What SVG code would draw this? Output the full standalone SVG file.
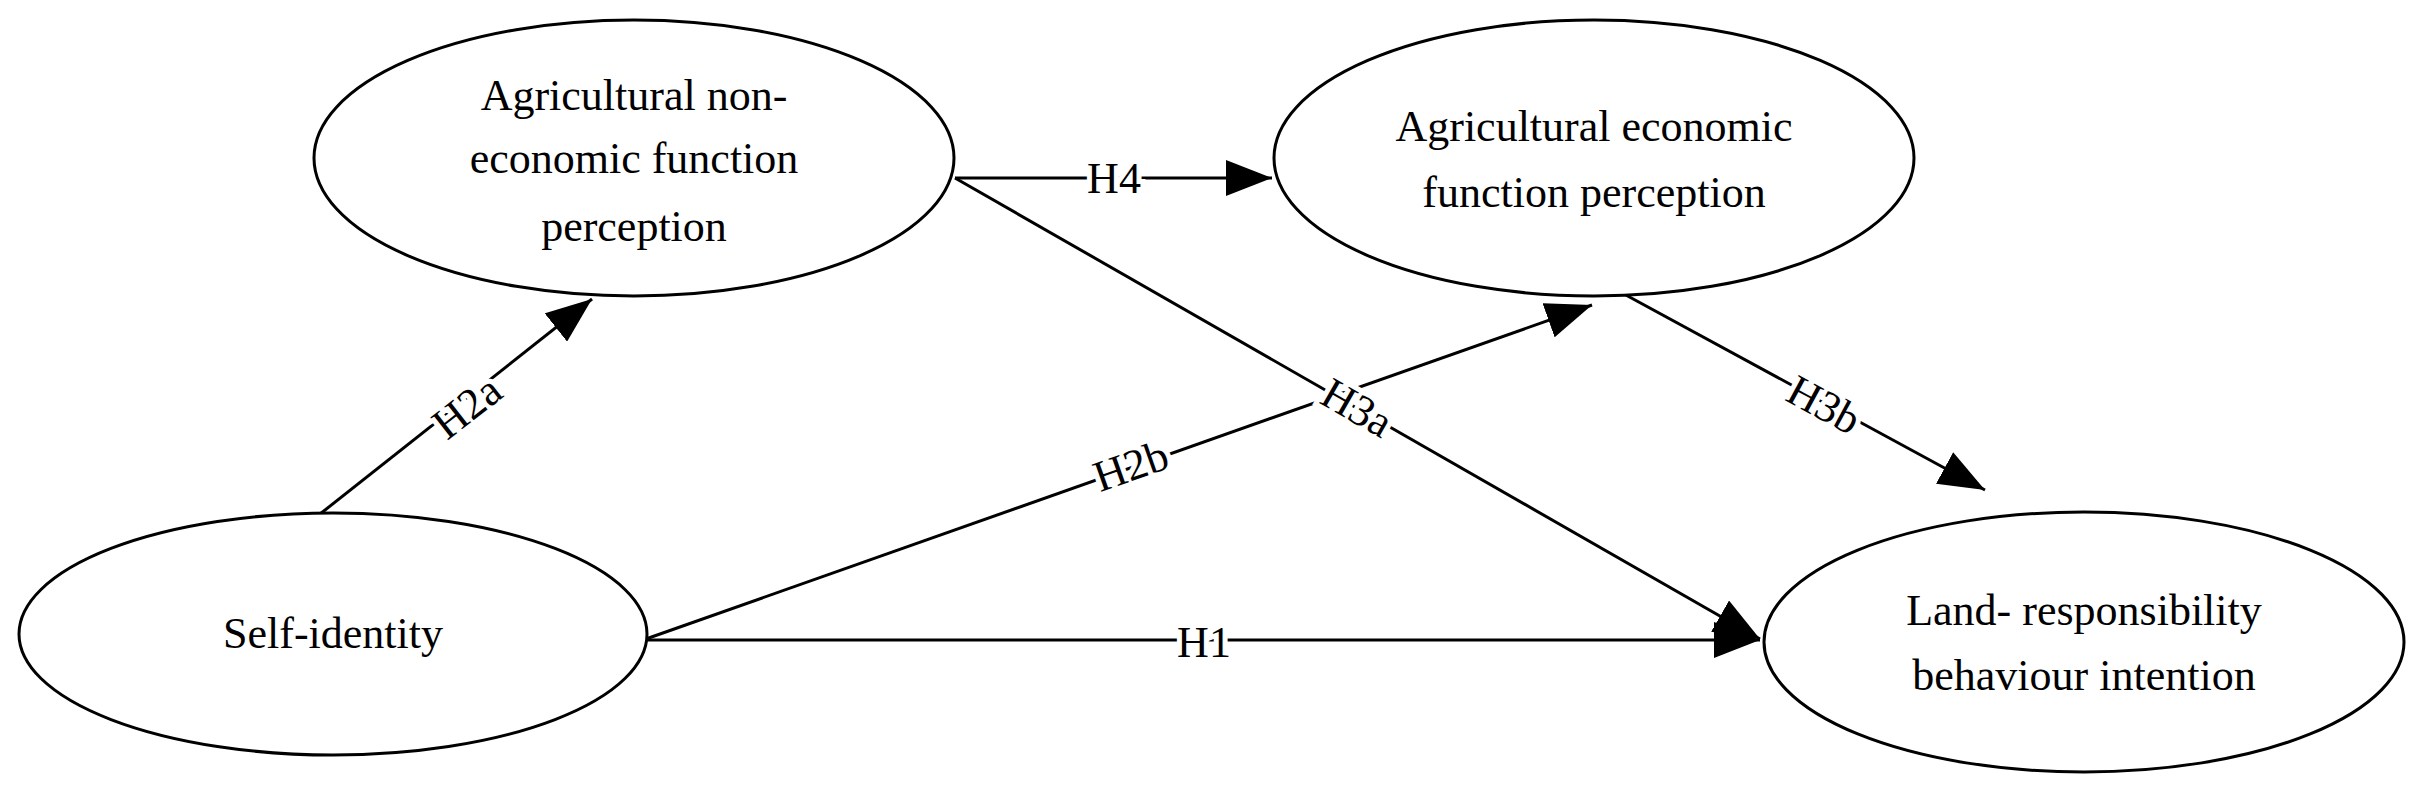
<svg xmlns="http://www.w3.org/2000/svg" width="2426" height="797" viewBox="0 0 2426 797">
<style>
.n{fill:#fff;stroke:#000;stroke-width:3}
.t{font-family:"Liberation Serif","DejaVu Serif",serif;font-size:44px;text-anchor:middle;fill:#000}
.e{stroke:#000;stroke-width:3;fill:none}
.l{font-family:"Liberation Serif","DejaVu Serif",serif;font-size:44px;text-anchor:middle;dominant-baseline:central;fill:#000;stroke:#fff;stroke-width:10;paint-order:stroke}
</style>
<defs>
<marker id="a" markerUnits="userSpaceOnUse" markerWidth="48" markerHeight="36" refX="46" refY="18" orient="auto">
<path d="M0,0 L46,18 L0,36 Z" fill="#000"/>
</marker>
</defs>
<g id="edges">
<line class="e" x1="955" y1="178" x2="1272" y2="178" marker-end="url(#a)"/>
<line class="e" x1="955" y1="178" x2="1760" y2="639" marker-end="url(#a)"/>
<line class="e" x1="320" y1="514" x2="592" y2="299" marker-end="url(#a)"/>
<line class="e" x1="643" y1="640" x2="1592" y2="305" marker-end="url(#a)"/>
<line class="e" x1="1624" y1="294" x2="1985" y2="490" marker-end="url(#a)"/>
<line class="e" x1="643" y1="640" x2="1760" y2="640" marker-end="url(#a)"/>
<text class="l" x="1114" y="178">H4</text>
<text class="l" x="1357" y="408" transform="rotate(29.8 1357 408)">H3a</text>
<text class="l" x="467" y="407" transform="rotate(-38 467 407)">H2a</text>
<text class="l" x="1131" y="466" transform="rotate(-19.4 1131 466)">H2b</text>
<text class="l" x="1824" y="405" transform="rotate(28.4 1824 405)">H3b</text>
<text class="l" x="1204" y="642">H1</text>
</g>
<g id="n1"><ellipse class="n" cx="634" cy="158" rx="320" ry="138"/>
<text class="t" x="634" y="110">Agricultural non-</text><text class="t" x="634" y="173">economic function</text><text class="t" x="634" y="241">perception</text></g>
<g id="n2"><ellipse class="n" cx="1594" cy="158" rx="320" ry="138"/>
<text class="t" x="1594" y="141">Agricultural economic</text><text class="t" x="1594" y="207">function perception</text></g>
<g id="n3"><ellipse class="n" cx="333" cy="634" rx="314" ry="121"/>
<text class="t" x="333" y="648">Self-identity</text></g>
<g id="n4"><ellipse class="n" cx="2084" cy="642" rx="320" ry="130"/>
<text class="t" x="2084" y="625">Land- responsibility</text><text class="t" x="2084" y="690">behaviour intention</text></g>
</svg>
